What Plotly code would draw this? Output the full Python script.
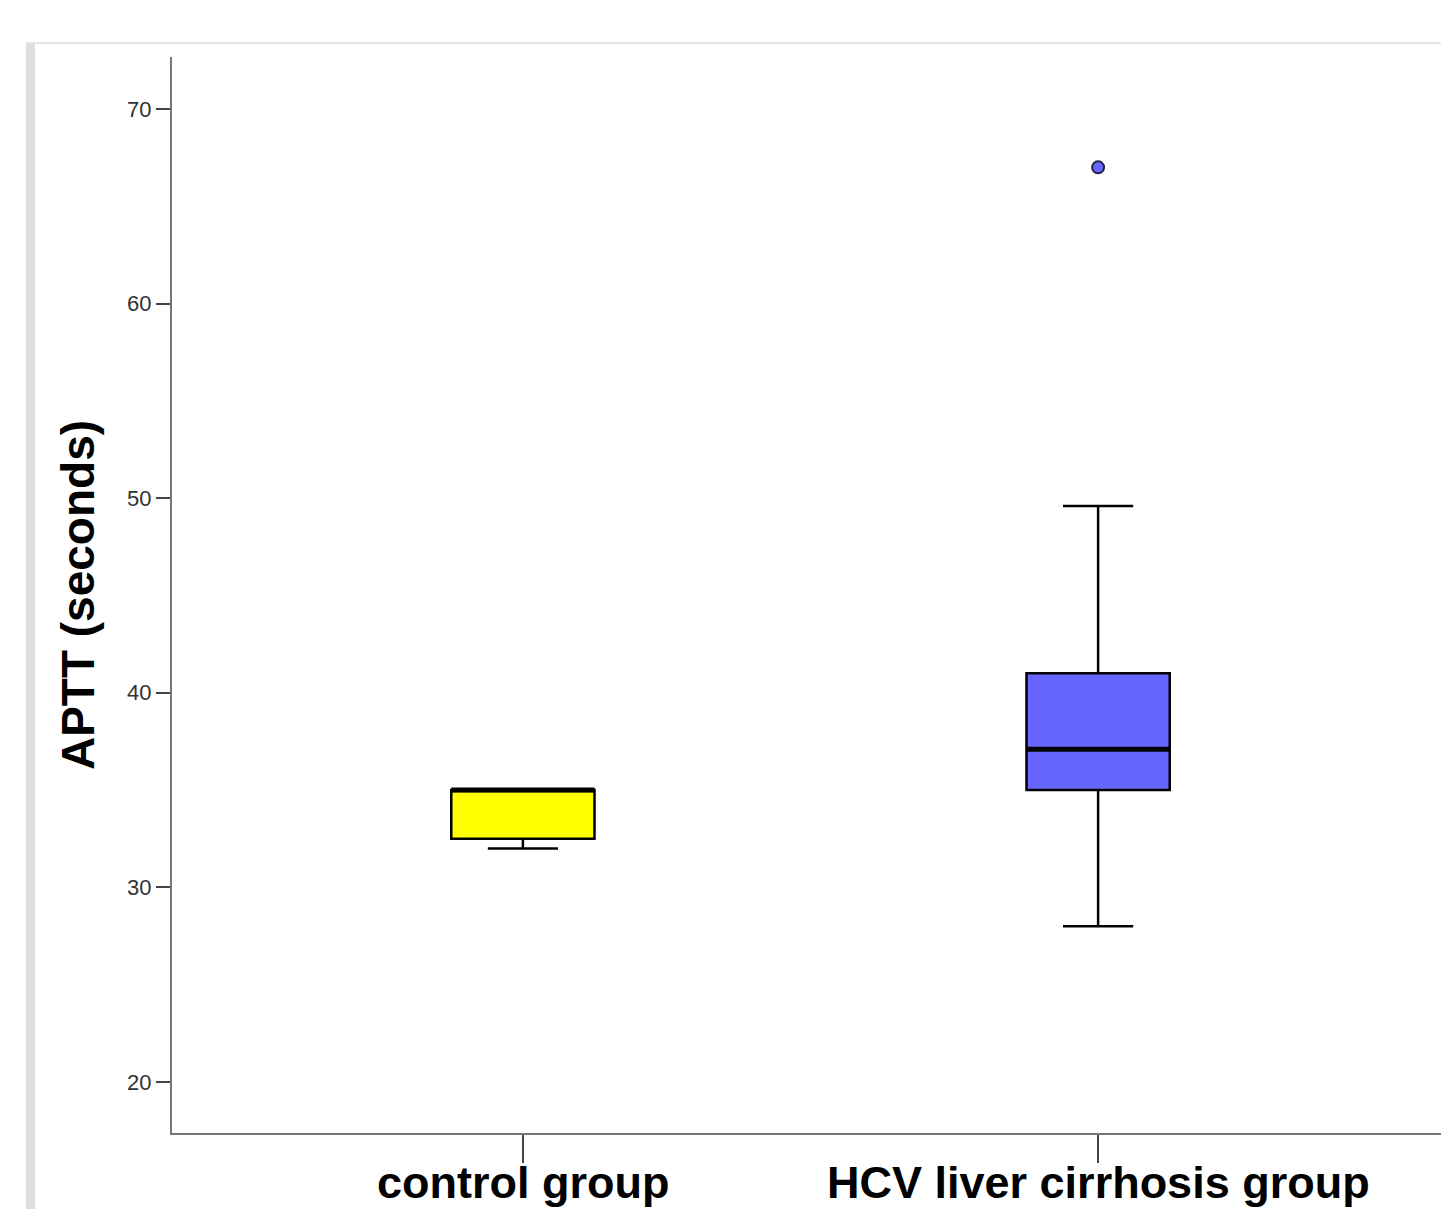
import plotly.graph_objects as go

groups = ["control group", "HCV liver cirrhosis group"]
lower_whisker = [32.0, 28.0]
q1 = [32.5, 35.0]
median = [35.0, 37.1]
q3 = [35.0, 41.0]
upper_whisker = [35.0, 49.6]
box_colors = ["#ffff00", "#6666ff"]
outlier_group = [1]
outlier_value = [67.0]
y_ticks = [20, 30, 40, 50, 60, 70]

BOX_W = 0.249
OFF = 8  # page body margin

fig = go.Figure()
for i, g in enumerate(groups):
    fig.add_trace(go.Box(
        x=[i], q1=[q1[i]], median=[median[i]], q3=[q3[i]],
        lowerfence=[lower_whisker[i]], upperfence=[upper_whisker[i]],
        width=BOX_W, whiskerwidth=0.49,
        fillcolor=box_colors[i], line=dict(color="black", width=2.5),
        name=g, showlegend=False, boxpoints=False, hoverinfo="skip",
    ))
    fig.add_trace(go.Scatter(
        x=[i - BOX_W / 2, i + BOX_W / 2], y=[median[i], median[i]],
        mode="lines", line=dict(color="black", width=5),
        showlegend=False, hoverinfo="skip",
    ))

fig.add_trace(go.Scatter(
    x=outlier_group, y=outlier_value, mode="markers",
    marker=dict(size=12, color="#6666ff", line=dict(color="#222244", width=2)),
    showlegend=False, hoverinfo="skip",
))

W, H = 1449 - OFF, 1209 - OFF
L, R, T, B = 172 - OFF, 0, 57 - OFF, 76
pw, ph = W - L - R, H - T - B

def px(x):
    return (x - OFF - L) / pw

def py(y):
    return (H - B - (y - OFF)) / ph

annotations = [
    dict(text="<b>%s</b>" % g, x=i, xref="x", y=py(1210), yref="paper",
         xanchor="center", yanchor="bottom", showarrow=False,
         font=dict(size=45, color="black", family="Liberation Sans, Arial, sans-serif"))
    for i, g in enumerate(groups)
]

fig.update_layout(
    width=W, height=H,
    margin=dict(l=L, r=R, t=T, b=B),
    paper_bgcolor="white", plot_bgcolor="white",
    font=dict(family="Liberation Sans, Arial, sans-serif", color="#222"),
    xaxis=dict(
        range=[-0.61, 1.61], tickmode="array", tickvals=[0, 1], ticktext=["", ""],
        showgrid=False, zeroline=False,
        showline=True, linecolor="#777", linewidth=2,
        ticks="outside", ticklen=28, tickwidth=2, tickcolor="#444",
    ),
    yaxis=dict(
        range=[17.38, 72.67], tickmode="array", tickvals=y_ticks,
        showgrid=False, zeroline=False,
        showline=True, linecolor="#777", linewidth=2,
        ticks="outside", ticklen=14, tickwidth=2, tickcolor="#444",
        tickfont=dict(size=22, color="#333"),
        title=dict(text="<b>APTT (seconds)</b>", font=dict(size=46, color="black"), standoff=18),
    ),
    annotations=annotations,
    shapes=[
        dict(type="line", xref="paper", yref="paper", x0=px(26), x1=px(1449), y0=py(43), y1=py(43),
             line=dict(color="#e6e6e6", width=2), layer="below"),
        dict(type="rect", xref="paper", yref="paper", x0=px(26), x1=px(35), y0=py(1209), y1=py(43),
             fillcolor="#dddddd", line=dict(width=0), layer="below"),
    ],
)

fig.write_html("out.html")
